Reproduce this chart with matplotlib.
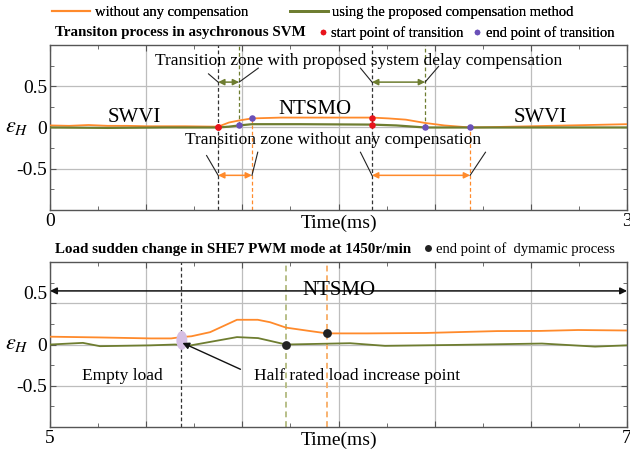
import numpy as np
import matplotlib
matplotlib.use('Agg')
import matplotlib.pyplot as plt
from matplotlib.lines import Line2D
from matplotlib.patches import Ellipse
from matplotlib.ticker import FixedLocator, FixedFormatter
import matplotlib.transforms as mtransforms

plt.rcParams['font.family'] = ['Liberation Serif', 'DejaVu Serif']
plt.rcParams['mathtext.fontset'] = 'stix'

ORANGE = '#ff8a2b'
OLIVE = '#6e7d30'
OLIVE_LIGHT = '#b8bf88'
ORANGE_LIGHT = '#f8b270'
PURPLE = '#6a50b8'
RED = '#e8141c'
GRID = '#bdbdbd'

# ---- asynchronous SVM transition (0-3 ms)
t_svm_orange = [0.0, 0.1, 0.2, 0.3, 0.4, 0.5, 0.6, 0.7, 0.8, 0.874, 0.93, 0.983, 1.05,
                1.2, 1.4, 1.6, 1.674, 1.76, 1.85, 1.95, 2.05, 2.184, 2.3, 2.5, 2.7, 2.9, 3.0]
e_svm_orange = [0.025, 0.02, 0.03, 0.02, 0.02, 0.015, 0.015, 0.015, 0.012, 0.01, 0.06, 0.085, 0.11,
                0.12, 0.12, 0.12, 0.12, 0.11, 0.095, 0.055, 0.025, 0.0, 0.005, 0.015, 0.025, 0.035, 0.04]
t_svm_olive = [0.0, 0.3, 0.6, 0.874, 0.93, 0.983, 1.05, 1.3, 1.674, 1.8, 1.95, 2.2, 2.6, 3.0]
e_svm_olive = [0.0, -0.005, 0.0, 0.0, 0.01, 0.025, 0.04, 0.04, 0.035, 0.025, 0.0, 0.0, 0.0, 0.0]

svm_start = [0.874, 1.674]
svm_end_olive = [0.983, 1.95]
svm_end_orange = [1.05, 2.184]

# ---- SHE7 PWM load step (5-7 ms)
t_she_orange = [5.0, 5.17, 5.35, 5.42, 5.454, 5.49, 5.555, 5.648, 5.72, 5.763, 5.818, 5.90,
                5.96, 6.1, 6.3, 6.55, 6.7, 6.83, 7.0]
e_she_orange = [0.095, 0.086, 0.074, 0.074, 0.09, 0.10, 0.15, 0.30, 0.30, 0.27, 0.205, 0.164,
                0.135, 0.135, 0.14, 0.163, 0.165, 0.176, 0.17]
t_she_olive = [5.0, 5.114, 5.173, 5.347, 5.433, 5.485, 5.648, 5.721, 5.818, 6.04, 6.161, 6.4,
               6.705, 6.889, 7.0]
e_she_olive = [0.0, 0.02, -0.02, -0.01, 0.0, -0.012, 0.09, 0.078, 0.0, 0.016, -0.016, -0.005,
               0.012, -0.025, -0.01]

load_step = 5.454
she_end_olive = 5.818
she_end_orange = 5.96

fig = plt.figure(figsize=(6.3, 4.55), dpi=100)
ax1 = fig.add_axes([0.0794, 0.5385, 0.9159, 0.3626])
ax2 = fig.add_axes([0.0794, 0.0615, 0.9159, 0.3626])


def style_axis(ax, x0, x1, n_major):
    ax.set_xlim(x0, x1)
    ax.set_ylim(-1, 1)
    major = np.linspace(x0, x1, n_major)
    ax.xaxis.set_major_locator(FixedLocator(major))
    labels = [''] * n_major
    labels[0] = '%g' % x0
    labels[-1] = '%g' % x1
    ax.xaxis.set_major_formatter(FixedFormatter(labels))
    ax.xaxis.set_minor_locator(FixedLocator(np.linspace(x0, x1, 2 * n_major - 1)))
    ax.set_yticks([-0.5, 0, 0.5])
    ax.set_yticklabels(['-0.5', '0', '0.5'])
    ax.yaxis.set_minor_locator(FixedLocator(np.arange(-0.75, 1.0, 0.25)))
    ax.tick_params(which='both', direction='in', top=True, right=True, color='#555555',
                   labelsize=14, pad=2)
    ax.tick_params(which='major', length=4)
    ax.tick_params(which='minor', length=3)
    ax.grid(True, which='major', color=GRID, lw=0.9)
    ax.set_axisbelow(True)
    for s in ax.spines.values():
        s.set_color('#555555')
        s.set_linewidth(1.0)
    ax.text(0.5, -0.03, 'Time(ms)', transform=ax.transAxes, ha='center', va='top', fontsize=14)
    ax.text(-0.058, 0.5, r'$\varepsilon_{H}$', transform=ax.transAxes, ha='center', va='center',
            fontsize=16)


style_axis(ax1, 0, 3, 7)
style_axis(ax2, 5, 7, 7)

# ---- top panel
ax1.plot(t_svm_orange, e_svm_orange, color=ORANGE, lw=1.3, zorder=3)
ax1.plot(t_svm_olive, e_svm_olive, color=OLIVE, lw=1.6, zorder=3)

for ts in svm_start:
    ax1.axvline(ts, color='#333333', ls=(0, (3, 2)), lw=0.9, zorder=2)
for te in svm_end_olive:
    y = np.interp(te, t_svm_olive, e_svm_olive)
    ax1.plot([te, te], [y, 1], color=OLIVE, ls=(0, (3, 2)), lw=0.9, zorder=2)
for te in svm_end_orange:
    y = np.interp(te, t_svm_orange, e_svm_orange)
    ax1.plot([te, te], [-1, y], color=ORANGE, ls=(0, (3, 2)), lw=0.9, zorder=2)

for ts in svm_start:
    ax1.scatter([ts, ts], [np.interp(ts, t_svm_orange, e_svm_orange),
                           np.interp(ts, t_svm_olive, e_svm_olive)],
                s=22, color=RED, zorder=5, linewidths=0)
for te in svm_end_olive:
    ax1.scatter([te], [np.interp(te, t_svm_olive, e_svm_olive)], s=22, color=PURPLE, zorder=5,
                linewidths=0)
for te in svm_end_orange:
    ax1.scatter([te], [np.interp(te, t_svm_orange, e_svm_orange)], s=22, color=PURPLE, zorder=5,
                linewidths=0)

# transition zone arrows
arr_y_olive = 0.55
arr_y_orange = -0.58
for ts, te in zip(svm_start, svm_end_olive):
    ax1.annotate('', xy=(te, arr_y_olive), xytext=(ts, arr_y_olive),
                 arrowprops=dict(arrowstyle='<|-|>', color=OLIVE, lw=1.1, shrinkA=0, shrinkB=0,
                                 mutation_scale=9), zorder=4)
for ts, te in zip(svm_start, svm_end_orange):
    ax1.annotate('', xy=(te, arr_y_orange), xytext=(ts, arr_y_orange),
                 arrowprops=dict(arrowstyle='<|-|>', color=ORANGE, lw=1.1, shrinkA=0, shrinkB=0,
                                 mutation_scale=9), zorder=4)

# leader lines from labels to arrow ends
ax1.plot([svm_start[0] - 0.05, svm_start[0]], [0.65, arr_y_olive], color='#222222', lw=0.8)
ax1.plot([svm_end_olive[0] + 0.1, svm_end_olive[0]], [0.72, arr_y_olive], color='#222222', lw=0.8)
ax1.plot([svm_start[1] - 0.06, svm_start[1]], [0.72, arr_y_olive], color='#222222', lw=0.8)
ax1.plot([svm_end_olive[1] + 0.07, svm_end_olive[1]], [0.74, arr_y_olive], color='#222222', lw=0.8)
ax1.plot([svm_start[0] - 0.06, svm_start[0]], [-0.34, arr_y_orange], color='#222222', lw=0.8)
ax1.plot([svm_end_orange[0] + 0.03, svm_end_orange[0]], [-0.3, arr_y_orange], color='#222222', lw=0.8)
ax1.plot([svm_start[1] - 0.06, svm_start[1]], [-0.3, arr_y_orange], color='#222222', lw=0.8)
ax1.plot([svm_end_orange[1] + 0.08, svm_end_orange[1]], [-0.3, arr_y_orange], color='#222222', lw=0.8)

ax1.text(1.605, 0.80, 'Transition zone with proposed system delay compensation', ha='center',
         va='center', fontsize=12.5, zorder=6)
ax1.text(1.47, -0.15, 'Transition zone without any compensation', ha='center', va='center',
         fontsize=12.5, zorder=6)
ax1.text(0.44, 0.12, 'SWVI', ha='center', va='center', fontsize=15)
ax1.text(1.375, 0.22, 'NTSMO', ha='center', va='center', fontsize=15)
ax1.text(2.55, 0.12, 'SWVI', ha='center', va='center', fontsize=15)

# ---- bottom panel
ax2.plot(t_she_orange, e_she_orange, color=ORANGE, lw=1.3, zorder=3)
ax2.plot(t_she_olive, e_she_olive, color=OLIVE, lw=1.3, zorder=3)
ax2.axvline(load_step, color='#333333', ls=(0, (3, 2)), lw=0.9, zorder=2)
ax2.axvline(she_end_olive, color=OLIVE_LIGHT, ls=(0, (3, 2)), lw=1.4, zorder=2)
ax2.axvline(she_end_orange, color=ORANGE_LIGHT, ls=(0, (3, 2)), lw=1.4, zorder=2)
ax2.add_patch(Ellipse((load_step + 0.003, 0.05), 0.038, 0.23, facecolor='#d6bfe4',
                      edgecolor='none', zorder=4))
ax2.scatter([she_end_olive], [np.interp(she_end_olive, t_she_olive, e_she_olive)], s=40,
            color='#222222', zorder=5, linewidths=0)
ax2.scatter([she_end_orange], [np.interp(she_end_orange, t_she_orange, e_she_orange)], s=40,
            color='#222222', zorder=5, linewidths=0)

ax2.annotate('', xy=(7, 0.65), xytext=(5, 0.65),
             arrowprops=dict(arrowstyle='<|-|>', color='#111111', lw=1.1, shrinkA=0, shrinkB=0,
                             mutation_scale=10), zorder=4)
ax2.text(6.0, 0.66, 'NTSMO', ha='center', va='center', fontsize=15, zorder=6)
ax2.annotate('', xy=(load_step + 0.005, 0.02), xytext=(5.66, -0.3),
             arrowprops=dict(arrowstyle='-|>', color='#111111', lw=1.0, shrinkA=0, shrinkB=0,
                             mutation_scale=10), zorder=6)
ax2.text(5.25, -0.38, 'Empty load', ha='center', va='center', fontsize=12.5)
ax2.text(6.065, -0.38, 'Half rated load increase point', ha='center', va='center', fontsize=12.5)

# shift the upper 0.5 tick label of the lower panel up a little
for lab in ax2.get_yticklabels():
    if lab.get_text() == '0.5':
        lab.set_transform(lab.get_transform() +
                          mtransforms.ScaledTranslation(0, 11 / 100, fig.dpi_scale_trans))

# ---- headers and legends
line_handles = [Line2D([], [], color=ORANGE, lw=1.5), Line2D([], [], color=OLIVE, lw=2)]
leg1 = fig.legend(line_handles, ['without any compensation', 'using the proposed compensation method'],
                  loc='center left', bbox_to_anchor=(0.083, 0.972), ncol=2, frameon=False,
                  fontsize=10.5, handlelength=2.6, handletextpad=0.3, columnspacing=2.9,
                  borderpad=0, borderaxespad=0)
dot_handles = [Line2D([], [], ls='', marker='o', ms=4, color=RED, mec='none'),
               Line2D([], [], ls='', marker='o', ms=4, color=PURPLE, mec='none')]
leg2 = fig.legend(dot_handles, ['start point of transition', 'end point of transition'],
                  loc='center left', bbox_to_anchor=(0.505, 0.928), ncol=2, frameon=False,
                  fontsize=10.5, handlelength=0.6, handletextpad=0.3, columnspacing=0.6,
                  borderpad=0, borderaxespad=0)
fig.add_artist(leg1)
fig.text(0.087, 0.929, 'Transiton process in asychronous SVM', fontsize=10.8, fontweight='bold',
         ha='left', va='center')

fig.text(0.087, 0.452, 'Load sudden change in SHE7 PWM mode at 1450r/min', fontsize=10.8,
         fontweight='bold', ha='left', va='center')
leg3 = fig.legend([Line2D([], [], ls='', marker='o', ms=5, color='#222222', mec='none')],
                  ['end point of  dymamic process'], loc='center left',
                  bbox_to_anchor=(0.672, 0.452), frameon=False, fontsize=10.5, handlelength=0.6,
                  handletextpad=0.3, borderpad=0, borderaxespad=0)
fig.add_artist(leg2)

fig.savefig('out.png', dpi=100)
